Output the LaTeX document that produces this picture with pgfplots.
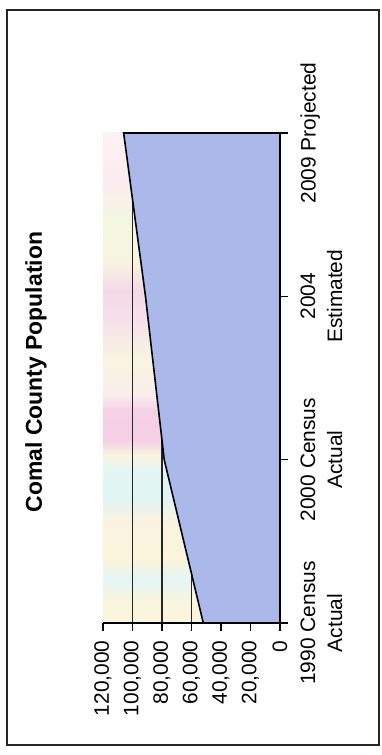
\documentclass[border=0pt]{standalone}
\usepackage{pgfplots}
\pgfplotsset{compat=1.18}
\usepackage{fontspec}
\setmainfont{Liberation Sans}
\definecolor{areafill}{RGB}{170,184,234}
\pgfdeclareverticalshading{paperbg}{100bp}{%
 rgb(0bp)=(0.98,0.96,0.86);
 rgb(25bp)=(0.98,0.96,0.86);
 rgb(27.3bp)=(0.98,0.96,0.87);
 rgb(29.4bp)=(0.89,0.96,0.96);
 rgb(31.4bp)=(0.98,0.96,0.86);
 rgb(35.5bp)=(0.98,0.95,0.88);
 rgb(37.6bp)=(0.88,0.96,0.95);
 rgb(40.6bp)=(0.89,0.96,0.96);
 rgb(42.1bp)=(0.98,0.96,0.88);
 rgb(43.7bp)=(0.96,0.81,0.89);
 rgb(46.7bp)=(0.96,0.82,0.90);
 rgb(48.3bp)=(0.98,0.93,0.93);
 rgb(51.8bp)=(0.97,0.96,0.88);
 rgb(55.9bp)=(0.97,0.88,0.92);
 rgb(58.9bp)=(0.96,0.85,0.91);
 rgb(62.0bp)=(0.97,0.96,0.88);
 rgb(66.1bp)=(0.95,0.97,0.88);
 rgb(70.2bp)=(0.99,0.92,0.94);
 rgb(75bp)=(0.99,0.95,0.95);
 rgb(100bp)=(0.99,0.95,0.95)}
\begin{document}
\begin{tikzpicture}[x=1bp,y=1bp]
\path[use as bounding box] (0,0) rectangle (381,755);
\draw[line width=2bp, black!85] (7,10) rectangle (379,745);
\node[rotate=90, font=\bfseries\fontsize{23}{27}\selectfont] at (36,383) {Comal County Population};
\begin{axis}[
  at={(103bp,132bp)}, anchor=south west,
  scale only axis, width=177bp, height=490bp,
  x dir=reverse,
  xmin=0, xmax=120000, ymin=0, ymax=3,
  axis x line*=bottom,
  axis y line*=right,
  axis line style={line width=1.6bp, black},
  xtick={0,20000,40000,60000,80000,100000,120000},
  xticklabels={0,{20,000},{40,000},{60,000},{80,000},{100,000},{120,000}},
  minor xtick={60000,80000,100000},
  xminorgrids,
  minor grid style={line width=1.2bp, black!85},
  minor tick length=0pt,
  ytick={0,1,2,3},
  yticklabels={{1990 Census\\Actual},{2000 Census\\Actual},{2004\\Estimated},{2009 Projected}},
  tick align=outside, major tick length=8bp,
  major tick style={line width=1.4bp, black},
  scaled x ticks=false,
  clip=false,
  xticklabel shift=6bp,
  yticklabel shift=9bp,
  xticklabel style={rotate=90, anchor=east, font=\fontsize{21}{25}\selectfont},
  yticklabel style={rotate=90, anchor=north, align=center, font=\fontsize{21}{27}\selectfont},
  axis background/.style={shade, shading=paperbg},
]
\addplot[fill=areafill, draw=black, line width=1.6bp] coordinates {(0,0) (52000,0) (78500,1) (91200,2) (106000,3) (0,3)} -- cycle;
\end{axis}
\end{tikzpicture}
\end{document}
